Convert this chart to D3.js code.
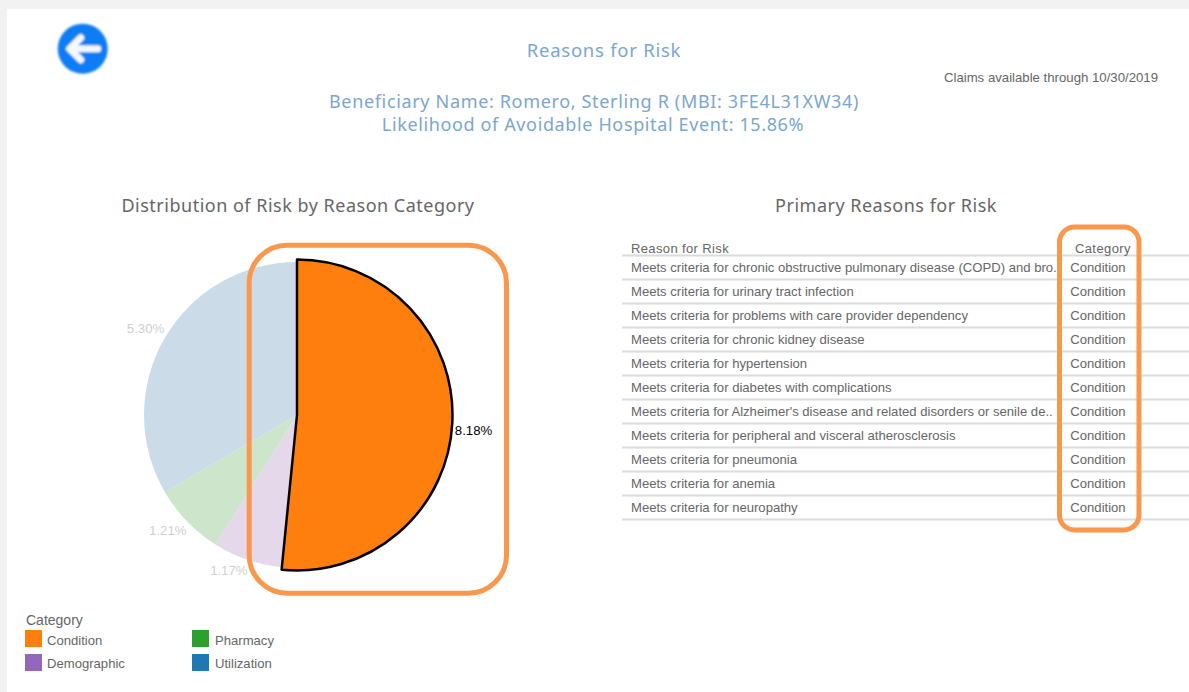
<!DOCTYPE html>
<html>
<head>
<meta charset="utf-8">
<script src="https://cdnjs.cloudflare.com/ajax/libs/d3/7.8.5/d3.min.js"></script>
<style>
  html, body { margin: 0; padding: 0; background: #fff; overflow: hidden; }
  text { font-family: "Liberation Sans", Arial, sans-serif; fill: #666; }
  .heading { font-family: "Noto Sans", sans-serif; }
</style>
</head>
<body>
<svg id="chart" width="1189" height="692"></svg>
<script>
const categories = ['Condition', 'Demographic', 'Pharmacy', 'Utilization'];
const riskValues = [8.18, 1.17, 1.21, 5.30];
const riskColors = ['#ff7f0e', '#9467bd', '#2ca02c', '#1f77b4'];
const highlighted = 'Condition';

const reasons = [
    'Meets criteria for chronic obstructive pulmonary disease (COPD) and bro..',
    'Meets criteria for urinary tract infection',
    'Meets criteria for problems with care provider dependency',
    'Meets criteria for chronic kidney disease',
    'Meets criteria for hypertension',
    'Meets criteria for diabetes with complications',
    "Meets criteria for Alzheimer's disease and related disorders or senile de..",
    'Meets criteria for peripheral and visceral atherosclerosis',
    'Meets criteria for pneumonia',
    'Meets criteria for anemia',
    'Meets criteria for neuropathy'
];
const reasonCategories = reasons.map(() => 'Condition');

const svg = d3.select('#chart');
const blue = '#7ba6cf';
const callout = '#f9984c';

// page background
svg.append('rect').attr('width', 1189).attr('height', 692).attr('fill', '#f2f2f2');
svg.append('rect').attr('x', 7).attr('y', 9).attr('width', 1182).attr('height', 683).attr('fill', '#fff');

// back button
const defs = svg.append('defs');
defs.append('filter').attr('id', 'soft').append('feGaussianBlur').attr('stdDeviation', 0.8);
const back = svg.append('g').attr('transform', 'translate(82.7,48.7)').attr('filter', 'url(#soft)');
back.append('circle').attr('r', 25).attr('fill', '#0a7df5');
back.append('path')
    .attr('d', 'M15,0H-13M-2,-11L-13,0L-2,11')
    .attr('fill', 'none').attr('stroke', '#f4f8fd').attr('stroke-width', 7)
    .attr('stroke-linecap', 'round').attr('stroke-linejoin', 'round');

function heading(txt, x, y, size, color, spacing) {
    svg.append('text').attr('class', 'heading')
        .attr('x', x).attr('y', y)
        .attr('text-anchor', 'middle')
        .style('font-size', size + 'px')
        .style('letter-spacing', spacing + 'px')
        .style('fill', color)
        .text(txt);
}
heading('Reasons for Risk', 604, 57, 18.5, blue, 0.75);
heading('Beneficiary Name: Romero, Sterling R (MBI: 3FE4L31XW34)', 594, 108, 18, blue, 0.66);
heading('Likelihood of Avoidable Hospital Event: 15.86%', 593, 131, 18, blue, 0.63);
heading('Distribution of Risk by Reason Category', 298, 212, 18, '#666', 0.5);
heading('Primary Reasons for Risk', 886, 212, 18, '#666', 0.5);

svg.append('text').attr('x', 1158).attr('y', 82).attr('text-anchor', 'end')
    .style('font-size', '13.2px').text('Claims available through 10/30/2019');

// pie
const cx = 297, cy = 415, radius = 153;
const pie = d3.pie().sort(null).value(d => d.value);
const slices = pie(categories.map((c, i) => ({ name: c, value: riskValues[i], color: riskColors[i] })));
const arc = d3.arc().innerRadius(0);
const labelArc = d3.arc().innerRadius(160).outerRadius(160);
const pieG = svg.append('g').attr('transform', `translate(${cx},${cy})`);

// faded slices are the category colour washed toward an off white
const faded = c => d3.interpolateRgb(c, '#fbf8f7')(0.78);

// highlighted slice goes last so its outline sits on top
const ordered = slices.slice().sort((a, b) => (a.data.name === highlighted) - (b.data.name === highlighted));
pieG.selectAll('path.slice').data(ordered).enter().append('path')
    .attr('class', 'slice')
    .attr('d', d => arc.outerRadius(d.data.name === highlighted ? 155.5 : radius)(d))
    .attr('fill', d => d.data.name === highlighted ? d.data.color : faded(d.data.color))
    .attr('stroke', d => d.data.name === highlighted ? '#000' : 'none')
    .attr('stroke-width', 2.5)
    .attr('stroke-linejoin', 'round');

const pctDy = { Condition: 12, Demographic: 9, Pharmacy: 9, Utilization: -2 };
const pctDx = { Condition: -2, Demographic: 2.5, Pharmacy: 4.5, Utilization: 6 };
pieG.selectAll('text.pct').data(slices).enter().append('text')
    .attr('class', 'pct')
    .attr('transform', d => `translate(${labelArc.centroid(d)})`)
    .attr('text-anchor', d => labelArc.centroid(d)[0] > 0 ? 'start' : 'end')
    .attr('dy', d => pctDy[d.data.name])
    .attr('dx', d => pctDx[d.data.name])
    .style('font-size', '13.2px')
    .style('fill', d => d.data.name === highlighted ? '#000' : '#cfcfcf')
    .text(d => d.data.value.toFixed(2) + '%');

// table
const tableLeft = 622, tableRight = 1189, reasonX = 631, categoryX = 1098;
const rowY = d3.scalePoint().domain(d3.range(reasons.length + 1)).range([255.5, 519.5]);
svg.selectAll('line.rule').data(rowY.domain()).enter().append('line')
    .attr('class', 'rule')
    .attr('x1', tableLeft).attr('x2', tableRight)
    .attr('y1', d => rowY(d)).attr('y2', d => rowY(d))
    .attr('stroke', '#dcdcdc').attr('stroke-width', 2);

svg.append('text').attr('x', reasonX).attr('y', 253).style('font-size', '13px').style('letter-spacing', '0.37px').text('Reason for Risk');
svg.append('text').attr('x', 1131).attr('y', 253).attr('text-anchor', 'end').style('font-size', '13px').style('letter-spacing', '0.42px').text('Category');

svg.selectAll('text.reason').data(reasons).enter().append('text')
    .attr('class', 'reason')
    .attr('x', reasonX).attr('y', (d, i) => rowY(i) + 16.5)
    .style('font-size', '13.1px')
    .text(d => d);
svg.selectAll('text.reasoncat').data(reasonCategories).enter().append('text')
    .attr('class', 'reasoncat')
    .attr('x', categoryX).attr('y', (d, i) => rowY(i) + 16.5)
    .attr('text-anchor', 'middle')
    .style('font-size', '13.1px')
    .text(d => d);

// legend
svg.append('text').attr('x', 26).attr('y', 625).style('font-size', '14px').text('Category');
const legendX = d3.scalePoint().domain([0, 1]).range([25, 192]);
const legendY = d3.scalePoint().domain([0, 1]).range([630, 654]);
const legend = svg.selectAll('g.legend').data(categories).enter().append('g')
    .attr('class', 'legend')
    .attr('transform', (d, i) => `translate(${legendX(i < 2 ? 0 : 1)},${legendY(i % 2)})`);
legend.append('rect').attr('width', 17).attr('height', 17).attr('fill', (d, i) => riskColors[i]);
legend.append('text').attr('x', d => (d === 'Pharmacy' || d === 'Utilization') ? 23 : 22)
    .attr('y', (d, i) => i % 2 ? 14 : 15)
    .style('font-size', '13.1px').text(d => d);

// callout boxes
svg.append('rect').attr('x', 249.2).attr('y', 245.2).attr('width', 257.3).attr('height', 348)
    .attr('rx', 38).attr('fill', 'none').attr('stroke', callout).attr('stroke-width', 5);
svg.append('rect').attr('x', 1059.5).attr('y', 227).attr('width', 79.5).attr('height', 303)
    .attr('rx', 15).attr('fill', 'none').attr('stroke', callout).attr('stroke-width', 5);
</script>
</body>
</html>
